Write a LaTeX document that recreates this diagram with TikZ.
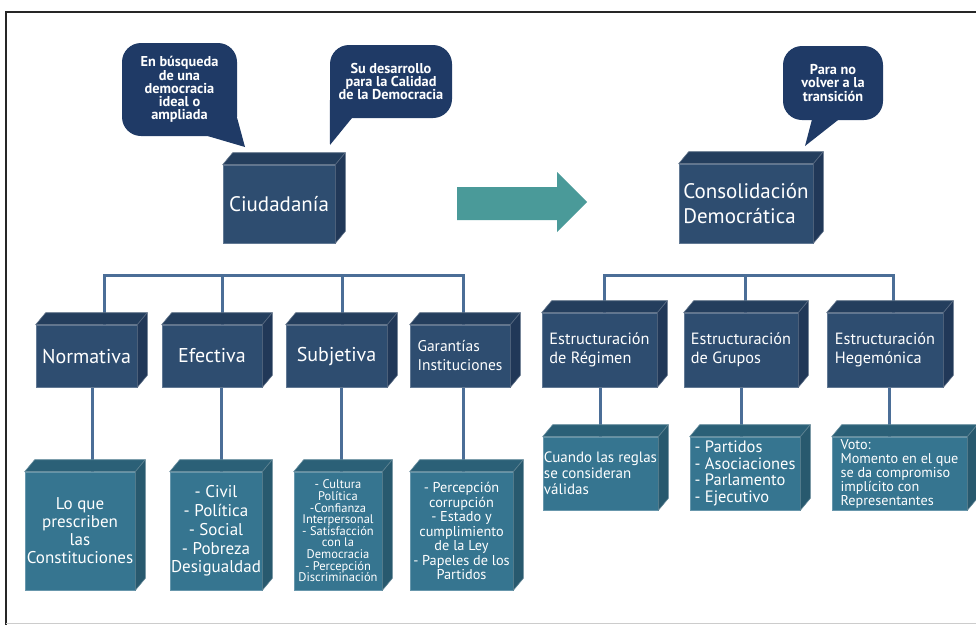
\documentclass[tikz,border=0pt]{standalone}
\usepackage{fontspec}
\setmainfont{PT Sans}
\usetikzlibrary{calc}
\pgfdeclarelayer{bg}
\pgfsetlayers{bg,main}
\definecolor{navyF}{HTML}{2E4D70}
\definecolor{navyT}{HTML}{243E5D}
\definecolor{navyS}{HTML}{213858}
\definecolor{tealF}{HTML}{367590}
\definecolor{tealT}{HTML}{2B6077}
\definecolor{tealS}{HTML}{28596E}
\definecolor{bub}{HTML}{1F3A66}
\definecolor{linec}{HTML}{4B6E97}
\definecolor{arrowc}{HTML}{4A9A99}
\tikzset{
  navyfront/.style={fill=navyF, draw=navyF!75!white, line width=0.6pt, inner sep=0pt, text=white},
  navytop/.style={fill=navyT, draw=navyT!75!white, line width=0.6pt, line join=round},
  navyside/.style={fill=navyS, draw=navyS!75!white, line width=0.6pt, line join=round},
  tealfront/.style={fill=tealF, draw=tealF!75!white, line width=0.6pt, inner sep=0pt, text=white},
  tealtop/.style={fill=tealT, draw=tealT!75!white, line width=0.6pt, line join=round},
  tealside/.style={fill=tealS, draw=tealS!75!white, line width=0.6pt, line join=round},
  bubble/.style={fill=bub, rounded corners=19pt, inner sep=0pt, text=white, align=center,
    font=\bfseries\fontsize{14.3}{13.2}\selectfont},
  conn/.style={draw=linec, line width=3pt, line join=miter},
  big/.style={font=\fontsize{21}{25}\selectfont},
  mid/.style={font=\fontsize{20}{24}\selectfont, align=center},
  midsm/.style={font=\fontsize{16.3}{19}\selectfont, align=left},
}
\newcommand\cubebox[7]{%
  \node[#2front, minimum width=#4pt, minimum height=#5pt, #6] (#1) at #3 {#7};
  \path[#2top] (#1.north west) -- ++(10,-12) -- ($(#1.north east)+(10,-12)$) -- (#1.north east) -- cycle;
  \path[#2side] (#1.north east) -- ++(10,-12) -- ($(#1.south east)+(10,-12)$) -- (#1.south east) -- cycle;
}
\begin{document}
\begin{tikzpicture}[x=1pt, y=-1pt]
\useasboundingbox (0,0) rectangle (976,625);
% frame
\draw[line width=2.5pt, draw=black!85] (976,12) -- (6,12) -- (6,625);
\draw[line width=1pt, draw=black!20] (6,623) -- (976,623);

% speech bubbles
\coordinate (t1) at (245,147);
\coordinate (t2) at (330,145);
\coordinate (t3) at (805,146);
\node[bubble, minimum width=115pt, minimum height=93pt] (b1) at (179.5,89.5)
  {En búsqueda\\de una\\democracia\\ideal o\\ampliada};
\fill[bub] ([xshift=-29pt]b1.south east) -- (t1) -- ([yshift=18pt]b1.south east) -- cycle;
\node[bubble, minimum width=122pt, minimum height=73pt] (b2) at (391,81.5)
  {Su desarrollo\\para la Calidad\\de la Democracia};
\fill[bub] ([yshift=18pt]b2.south west) -- (t2) -- ([xshift=22pt]b2.south west) -- cycle;
\node[bubble, minimum width=100pt, minimum height=74pt] (b3) at (833,83)
  {Para no\\volver a la\\transición};
\fill[bub] ([xshift=29pt]b3.south west) -- (t3) -- ([xshift=55pt]b3.south west) -- cycle;

% top boxes
\cubebox{ciu}{navy}{(279,204)}{112}{78}{big}{Ciudadanía}
\cubebox{con}{navy}{(746,203.5)}{134}{79}{big, align=left}{Consolidación\\Democrática}

% arrow
\fill[arrowc] (457,187) -- (557,187) -- (557,172) -- (587,202) -- (557,232) -- (557,220) -- (457,220) -- cycle;

% middle row left
\cubebox{nor}{navy}{(86.5,356)}{101}{62}{mid}{Normativa}
\cubebox{efe}{navy}{(212,356)}{100}{62}{mid}{Efectiva}
\cubebox{sub}{navy}{(336.5,356)}{101}{62}{mid}{Subjetiva}
\cubebox{gar}{navy}{(460,356)}{100}{62}{font=\fontsize{15.5}{19}\selectfont, align=left}{Garantías\\Instituciones}

% middle row right
\cubebox{reg}{navy}{(599.5,350)}{115}{74}{midsm}{Estructuración\\de Régimen}
\cubebox{gru}{navy}{(741,350)}{114}{74}{midsm}{Estructuración\\de Grupos}
\cubebox{heg}{navy}{(885,350)}{116}{74}{midsm}{Estructuración\\Hegemónica}

% bottom row left
\cubebox{lo}{teal}{(80,531)}{110}{118}{font=\fontsize{17}{18}\selectfont, align=center}{Lo que\\prescriben\\las\\Constituciones}
\cubebox{civ}{teal}{(216,531)}{92}{118}{font=\fontsize{17}{18.8}\selectfont, align=center}{- Civil\\- Política\\- Social\\- Pobreza\\Desigualdad}
\cubebox{cul}{teal}{(338,531)}{88}{118}{font=\fontsize{12.5}{11.6}\selectfont, align=center}{- Cultura\\Política\\-Confianza\\Interpersonal\\- Satisfacción\\con la\\Democracia\\- Percepción\\Discriminación}
\cubebox{per}{teal}{(461.5,531)}{103}{118}{font=\fontsize{14.3}{14.5}\selectfont, align=center}{- Percepción\\corrupción\\- Estado y\\cumplimiento\\de la Ley\\- Papeles de los\\Partidos}

% bottom row right
\cubebox{cua}{teal}{(600.5,473.5)}{115}{73}{font=\fontsize{15}{16}\selectfont, align=left}{Cuando las reglas\\se consideran\\válidas}
\cubebox{par}{teal}{(745,473.5)}{110}{73}{font=\fontsize{16.5}{16.7}\selectfont, align=left}{- Partidos\\- Asociaciones\\- Parlamento\\- Ejecutivo}
\cubebox{vot}{teal}{(899.5,473.5)}{135}{73}{font=\fontsize{14.2}{14}\selectfont, align=left}{Voto:\\Momento en el que\\se da compromiso\\implícito con\\Representantes}

% connector coordinates
\coordinate (la) at (104,275);
\coordinate (lb) at (222,275);
\coordinate (lc) at (342,275);
\coordinate (ld) at (463,275);
\coordinate (ra) at (604,275);
\coordinate (rb) at (745,275);
\coordinate (rc) at (893,275);
\coordinate (xa) at (92,0);
\coordinate (xb) at (221,0);
\coordinate (xc) at (341,0);
\coordinate (xd) at (463,0);
\coordinate (xe) at (600,0);
\coordinate (xf) at (741,0);
\coordinate (xg) at (889,0);

\begin{pgfonlayer}{bg}
\draw[conn] (la |- nor.north) -- (la) -- (ld) -- (ld |- gar.north);
\draw[conn] (lb) -- (lb |- efe.north);
\draw[conn] (lc) -- (lc |- sub.north);
\draw[conn] (ra |- reg.north) -- (ra) -- (rc) -- (rc |- heg.north);
\draw[conn] (rb) -- (rb |- gru.north);
\draw[conn] (nor.south -| xa) -- (lo.north -| xa);
\draw[conn] (efe.south -| xb) -- (civ.north -| xb);
\draw[conn] (sub.south -| xc) -- (cul.north -| xc);
\draw[conn] (gar.south -| xd) -- (per.north -| xd);
\draw[conn] (reg.south -| xe) -- (cua.north -| xe);
\draw[conn] (gru.south -| xf) -- (par.north -| xf);
\draw[conn] (heg.south -| xg) -- (vot.north -| xg);
\end{pgfonlayer}
\end{tikzpicture}
\end{document}
